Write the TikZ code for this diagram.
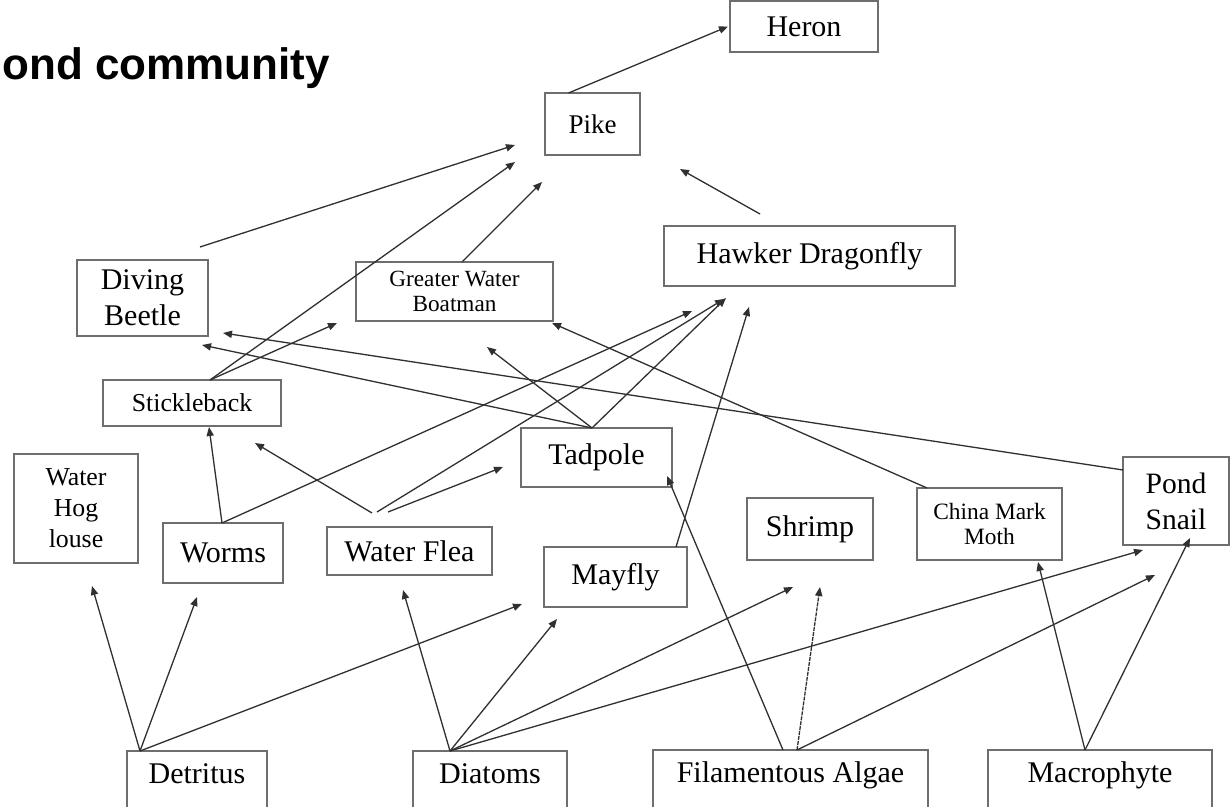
\documentclass[tikz,border=0pt]{standalone}
\usepackage{fontspec}
\setmainfont{Liberation Serif}
\newfontfamily\titlefont{Liberation Sans}
\usetikzlibrary{arrows.meta}
\definecolor{boxgray}{HTML}{6E6E6E}
\definecolor{linegray}{HTML}{303030}
\tikzset{
  box/.style={draw=boxgray, line width=0.75pt, inner sep=0pt, outer sep=0pt, align=center, font=\fontsize{15}{18}\selectfont},
  base/.style={box, text height=10pt, text depth=10pt},
  dims/.style 2 args={minimum width=#1*0.5pt, minimum height=#2*0.5pt},
  feed/.style={-{Triangle[length=4.5pt,width=3.6pt]}, line width=0.65pt, draw=linegray},
  faint/.style={feed, dash pattern=on 2pt off 0.5pt}
}
\begin{document}
\begin{tikzpicture}[x=0.5pt, y=-0.5pt]
  \useasboundingbox[fill=white] (0,0) rectangle (1230,807);
  \clip (0,0) rectangle (1230,807);

  \node[anchor=base west, inner sep=0pt, font=\titlefont\bfseries\fontsize{22}{26}\selectfont] (title) at (2,80) {ond community};

  % top of the web
  \node[box, dims={148}{51}] (heron) at (804,26.5) {Heron};
  \node[box, dims={95}{62}, font=\fontsize{13.5}{16}\selectfont] (pike) at (592.5,124) {Pike};
  \node[box, dims={291}{60}] (hawker) at (809.5,256) {Hawker Dragonfly};
  \node[box, dims={131}{76}, font=\fontsize{15}{18}\selectfont] (beetle) at (142.5,298) {Diving\\Beetle};
  \node[box, dims={197}{59}, font=\fontsize{11.6}{12.5}\selectfont] (boatman) at (454.5,291.5) {Greater Water\\Boatman};
  \node[box, dims={178}{46}, font=\fontsize{12.9}{15}\selectfont] (stickle) at (192,403) {Stickleback};
  \node[box, dims={151}{59}] (tadpole) at (596.5,457.5) {Tadpole};

  % middle row
  \node[box, dims={124}{109}, font=\fontsize{12.9}{15.5}\selectfont] (louse) at (76,508.5) {Water\\Hog\\louse};
  \node[box, dims={120}{60}] (worms) at (223,553) {Worms};
  \node[box, dims={165}{48}] (flea) at (409.5,551) {Water Flea};
  \node[box, dims={143}{60}] (mayfly) at (615.5,577) {Mayfly};
  \node[box, dims={126}{62}] (shrimp) at (810,529) {Shrimp};
  \node[box, dims={145}{72}, font=\fontsize{11.7}{12.5}\selectfont] (moth) at (989.5,524) {China Mark\\Moth};
  \node[box, dims={106}{88}, font=\fontsize{14.8}{18}\selectfont] (snail) at (1176,501) {Pond\\Snail};

  % producers
  \node[base, dims={140}{64}] (detritus) at (197,783) {Detritus};
  \node[base, dims={154}{64}] (diatoms) at (490,783) {Diatoms};
  \node[base, dims={275}{65}] (algae) at (790.5,782.5) {Filamentous Algae};
  \node[base, dims={224}{65}] (macro) at (1100,782.5) {Macrophyte};

  \draw[feed] ([shift={(-24,0)}]pike.north) -- ([shift={(-2,0)}]heron.west);
  \draw[feed] ([shift={(-8,-13)}]beetle.north east) -- ([shift={(-30,-10)}]pike.south west);
  \draw[feed] ([shift={(18,0)}]stickle.north) -- ([shift={(-30,7)}]pike.south west);
  \draw[feed] ([shift={(18,0)}]stickle.north) -- ([shift={(-19,2)}]boatman.south west);
  \draw[feed] ([shift={(7.5,0)}]boatman.north) -- ([shift={(-3,27)}]pike.south west);
  \draw[feed] ([shift={(-49.5,-12)}]hawker.north) -- ([shift={(40,14)}]pike.south east);

  \draw[feed] ([shift={(-4.5,0)}]tadpole.north) -- ([shift={(-6,9)}]beetle.south east);
  \draw[feed] ([shift={(-4.5,0)}]tadpole.north) -- ([shift={(32.5,26)}]boatman.south);
  \draw[feed] ([shift={(-4.5,0)}]tadpole.north) -- ([shift={(62,12)}]hawker.south west);
  \draw[feed] ([shift={(0,-31)}]snail.west) -- ([shift={(15,-3)}]beetle.south east);
  \draw[feed] ([shift={(10,0)}]moth.north west) -- ([shift={(-1,2)}]boatman.south east);

  \draw[feed] ([shift={(-1,0)}]worms.north) -- ([shift={(17,1)}]stickle.south);
  \draw[feed] ([shift={(-1,0)}]worms.north) -- ([shift={(28,25)}]hawker.south west);
  \draw[feed] ([shift={(-37.5,-14)}]flea.north) -- ([shift={(-26,17)}]stickle.south east);
  \draw[feed] ([shift={(-32.5,-15)}]flea.north) -- ([shift={(60,13)}]hawker.south west);
  \draw[feed] ([shift={(-21.5,-15)}]flea.north) -- ([shift={(-93.5,39)}]tadpole.north);
  \draw[feed] ([shift={(-11,0)}]mayfly.north east) -- ([shift={(85,21)}]hawker.south west);

  \draw[feed] ([shift={(13,0)}]detritus.north west) -- ([shift={(16,23)}]louse.south);
  \draw[feed] ([shift={(13,0)}]detritus.north west) -- ([shift={(-26,14)}]worms.south);
  \draw[feed] ([shift={(13,0)}]detritus.north west) -- ([shift={(-22,-3)}]mayfly.south west);
  \draw[feed] ([shift={(37,0)}]diatoms.north west) -- ([shift={(-6.5,15)}]flea.south);
  \draw[feed] ([shift={(37,0)}]diatoms.north west) -- ([shift={(13,12)}]mayfly.south west);
  \draw[feed] ([shift={(37,0)}]diatoms.north west) -- ([shift={(-17,27)}]shrimp.south);
  \draw[feed] ([shift={(37,0)}]diatoms.north west) -- ([shift={(20,5)}]snail.south west);
  \draw[feed] ([shift={(130,0)}]algae.north west) -- ([shift={(-5,-11)}]tadpole.south east);
  \draw[faint] ([shift={(144,0)}]algae.north west) -- ([shift={(10,27)}]shrimp.south);
  \draw[feed] ([shift={(144,0)}]algae.north west) -- ([shift={(32,30)}]snail.south west);
  \draw[feed] ([shift={(97,0)}]macro.north west) -- ([shift={(48.5,2)}]moth.south);
  \draw[feed] ([shift={(97,0)}]macro.north west) -- ([shift={(14,-7)}]snail.south);
\end{tikzpicture}
\end{document}
